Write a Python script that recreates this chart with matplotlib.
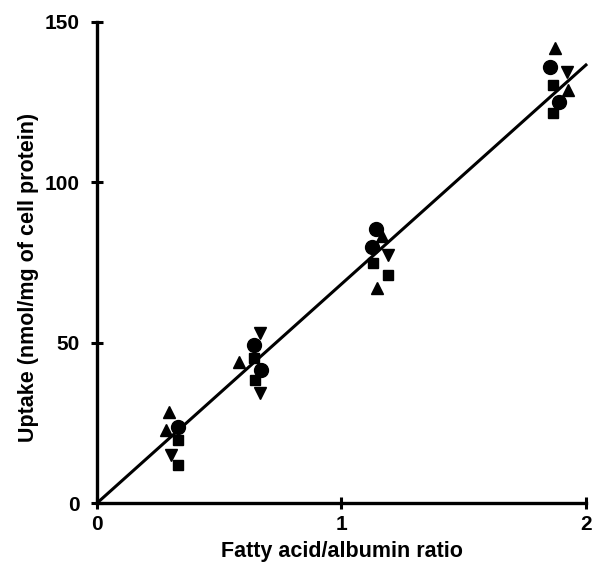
import matplotlib.pyplot as plt

plt.rcParams['font.family'] = ['Liberation Sans', 'DejaVu Sans']

# data, one list pair per symbol
circle_x = [0.331, 0.642, 0.671, 1.141, 1.125, 1.853, 1.890]
circle_y = [23.7, 49.3, 41.5, 85.4, 79.8, 136.0, 125.0]

square_x = [0.331, 0.331, 0.642, 0.646, 1.129, 1.190, 1.865, 1.865]
square_y = [19.6, 11.8, 45.2, 38.4, 74.8, 71.1, 130.3, 121.6]

tri_up_x = [0.294, 0.282, 0.581, 1.166, 1.145, 1.873, 1.926]
tri_up_y = [28.4, 22.8, 44.0, 83.3, 67.0, 141.9, 128.8]

tri_down_x = [0.303, 0.667, 0.667, 1.190, 1.922]
tri_down_y = [15.0, 53.0, 34.3, 77.3, 134.4]

line_x = [0.0, 2.0]
line_y = [0.0, 136.6]

fig = plt.figure(figsize=(5.93, 5.64), dpi=100)
ax = fig.add_axes([0.1636, 0.108, 0.8245, 0.853])

ax.plot(line_x, line_y, color='black', lw=2.2, clip_on=False)
ax.plot(circle_x, circle_y, 'o', color='black', ms=10, clip_on=False)
ax.plot(square_x, square_y, 's', color='black', ms=7, clip_on=False)
ax.plot(tri_up_x, tri_up_y, '^', color='black', ms=9, clip_on=False)
ax.plot(tri_down_x, tri_down_y, 'v', color='black', ms=9, clip_on=False)

ax.set_xlim(0, 2)
ax.set_ylim(0, 150)
ax.set_xticks([0, 1, 2])
ax.set_xticklabels(['0', '1', '2'])
ax.set_yticks([0, 50, 100, 150])
for side in ['top', 'right']:
    ax.spines[side].set_visible(False)
for side in ['left', 'bottom']:
    ax.spines[side].set_linewidth(2.4)
ax.tick_params(direction='inout', length=9, width=2.2, labelsize=15)
ax.tick_params(axis='x', pad=4)
ax.tick_params(axis='y', pad=8)
for lab in ax.get_xticklabels() + ax.get_yticklabels():
    lab.set_fontweight('bold')

ax.set_xlabel('Fatty acid/albumin ratio', fontsize=15.5, fontweight='bold', labelpad=5)
ax.set_ylabel('Uptake (nmol/mg of cell protein)', fontsize=15.5, fontweight='bold')
ax.yaxis.set_label_coords(-0.118, 0.47)

fig.savefig('out.png', dpi=100)
